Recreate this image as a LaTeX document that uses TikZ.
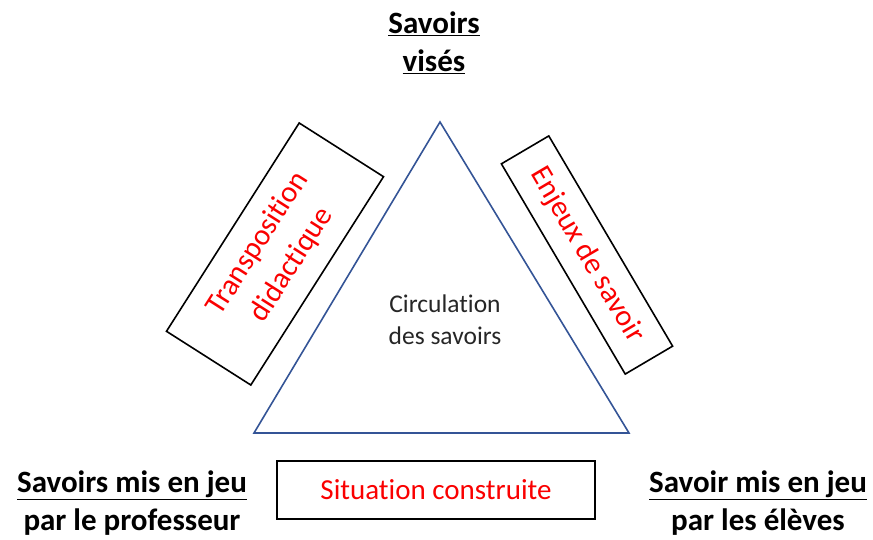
\documentclass[tikz,border=0pt]{standalone}
\usepackage{fontspec}
\setmainfont{Carlito}[Ligatures=NoCommon]
\usetikzlibrary{positioning}
\definecolor{trianglebleu}{RGB}{52,84,150}
\definecolor{enjeurouge}{RGB}{250,0,0}

\begin{document}
\begin{tikzpicture}[x=1pt,y=1pt,
  pole/.style={font=\fontsize{31}{38}\selectfont\bfseries,align=center,inner sep=0pt},
  cadre/.style={draw,line width=1.6pt,align=center,inner sep=0pt,text=enjeurouge,
    font=\fontsize{30}{40}\selectfont}]
\useasboundingbox (0,0) rectangle (873,-540);
% triangle des savoirs
\coordinate (apex) at (440,-122);
\coordinate (baseL) at (254,-433);
\coordinate (baseR) at (629,-433);
\draw[trianglebleu,line width=1.6pt,line join=miter] (apex) -- (baseR) -- (baseL) -- cycle;
\node[font=\fontsize{25.5}{32}\selectfont,align=center,text=black!85] (circ) at (445,-320) {Circulation\\des savoirs};
% les trois poles
\node[pole] (vises) at (434,-43) {\underline{Savoirs}\\\underline{visés}};
\node[pole] (prof) at (132,-503) {\underline{Savoirs mis en jeu}\\par le professeur};
\node[pole] (eleves) at (758,-503) {\underline{Savoir mis en jeu}\\par les élèves};
% cadres rouges
\node[cadre,minimum width=247,minimum height=100,rotate=57.5] (transpo) at (275,-254) {Transposition\\didactique};
\node[cadre,minimum width=244,minimum height=55,rotate=-59.5] (enjeux) at (587,-255) {Enjeux de savoir};
\node[cadre,minimum width=318,minimum height=58,font=\fontsize{29}{36}\selectfont] (situation) at (436,-490) {Situation construite};
\end{tikzpicture}
\end{document}
